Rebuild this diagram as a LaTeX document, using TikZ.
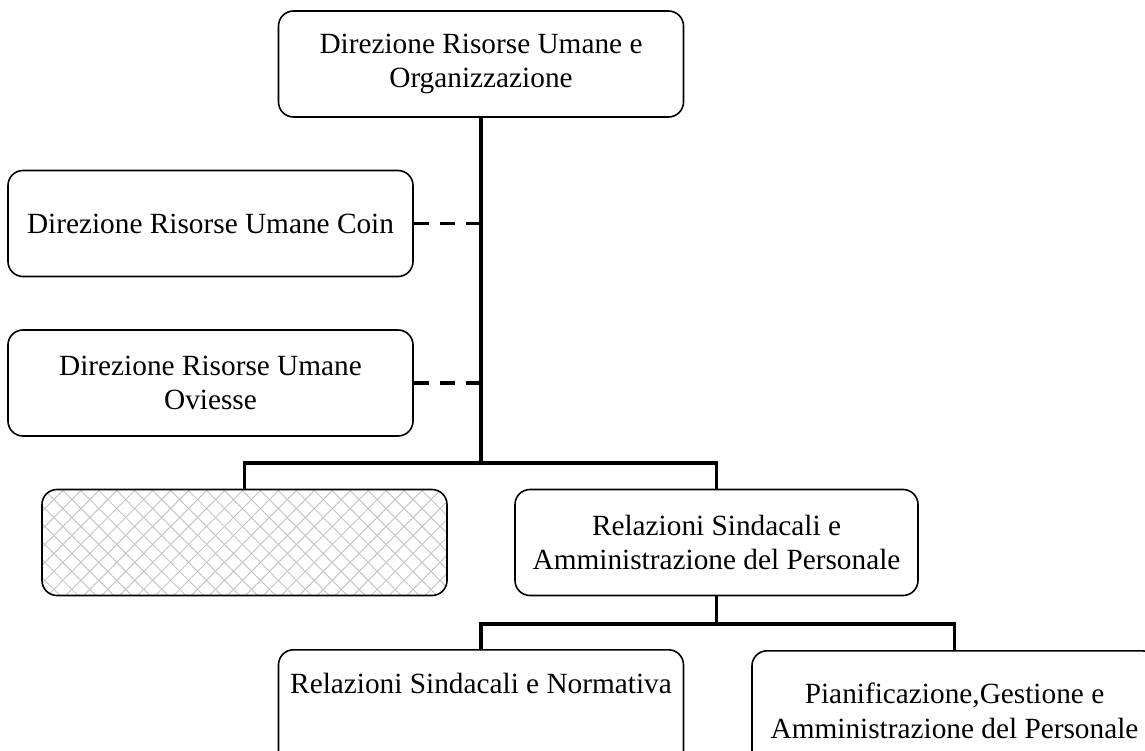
\documentclass[tikz,border=0pt]{standalone}
\usepackage{fontspec}
\setmainfont{Liberation Serif}
\usetikzlibrary{patterns.meta}
\tikzset{
  box/.style={draw, rounded corners=15pt, line width=1.6pt, minimum width=405pt, minimum height=106pt, inner sep=0pt, align=center, font=\fontsize{29.3}{34.5}\selectfont},
  conn/.style={line width=3.7pt},
  dconn/.style={line width=3.7pt, dash pattern=on 15pt off 11pt},
  hatched/.style={preaction={pattern={Lines[angle=45,distance=12.7pt,line width=1pt]}, pattern color=black!22},
                  preaction={pattern={Lines[angle=-45,distance=12.7pt,line width=1pt]}, pattern color=black!22}},
  lbl/.style={align=center, font=\fontsize{29.3}{34.5}\selectfont, inner sep=0pt}
}
\begin{document}
\begin{tikzpicture}[x=1pt,y=-1pt]
\useasboundingbox (0,0) rectangle (1145,751);
\node[box] (top) at (481,64) {Direzione Risorse Umane e\\Organizzazione};
\node[box] (coin) at (210.5,223.5) {Direzione Risorse Umane Coin};
\node[box] (ovi) at (210.5,383) {Direzione Risorse Umane\\Oviesse};
\node[box, hatched] (hatch) at (244.5,542.5) {};
\node[box, minimum width=403pt] (rel) at (716.5,542.5) {Relazioni Sindacali e\\Amministrazione del Personale};
\node[box, minimum height=130pt, anchor=north,
      label={[lbl, anchor=north, yshift=-24pt]north:Relazioni Sindacali e Normativa}] (norm) at (481,649) {};
\node[box, minimum height=130pt, anchor=north,
      label={[lbl, anchor=north, yshift=-33pt]north:Pianificazione,Gestione e\\Amministrazione del Personale}] (pian) at (954.5,650) {};
\coordinate (j1) at (481,463);
\coordinate (j2) at (716.5,624);
\draw[conn] (top.south) -- (j1);
\draw[conn] (hatch.north) |- (j1) -| (rel.north);
\draw[dconn] (coin.east) -- (coin.east -| j1);
\draw[dconn] (ovi.east) -- (ovi.east -| j1);
\draw[conn] (rel.south) -- (j2);
\draw[conn] (norm.north) |- (j2) -| (pian.north);
\end{tikzpicture}
\end{document}
